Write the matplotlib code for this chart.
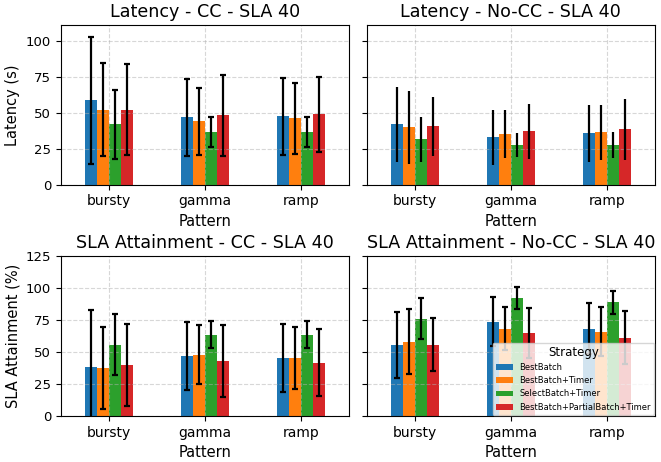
import matplotlib
matplotlib.use("Agg")
import matplotlib.pyplot as plt
import numpy as np

patterns = ["bursty", "gamma", "ramp"]
strategies = ["BestBatch", "BestBatch+Timer", "SelectBatch+Timer",
              "BestBatch+PartialBatch+Timer"]
colors = ["#1f77b4", "#ff7f0e", "#2ca02c", "#d62728"]

# rows = strategies, columns = patterns
lat_cc = [[58.7, 46.9, 47.6], [52.4, 44.1, 46.2], [42.0, 36.5, 36.5], [52.4, 48.3, 49.0]]
lat_cc_std = [[44.5, 26.6, 26.7], [32.3, 23.3, 24.6], [24.0, 10.5, 10.5], [31.7, 28.2, 26.3]]
lat_nocc = [[42.0, 33.0, 35.8], [40.0, 35.1, 36.5], [31.6, 27.5, 27.5], [40.6, 37.2, 38.6]]
lat_nocc_std = [[25.9, 19.0, 19.7], [25.4, 16.7, 19.0], [15.6, 8.3, 9.0], [20.6, 19.3, 21.1]]
sla_cc = [[38.4, 47.1, 45.5], [37.6, 47.9, 45.5], [55.8, 63.7, 63.7], [40.0, 43.2, 41.6]]
sla_cc_std = [[44.8, 26.7, 26.6], [32.3, 23.3, 24.5], [24.0, 10.5, 10.5], [32.0, 28.3, 26.2]]
sla_nocc = [[55.8, 73.9, 68.4], [58.2, 68.4, 66.1], [76.3, 92.1, 88.9], [55.8, 65.3, 61.3]]
sla_nocc_std = [[26.0, 19.0, 20.3], [25.5, 16.8, 19.3], [15.8, 8.6, 9.0], [20.6, 19.6, 21.0]]


def bar_panel(ax, vals, stds, title, capsize):
    x = np.arange(len(patterns))
    w = 0.125
    for i, s in enumerate(strategies):
        ax.bar(x + (i - 1.5) * w, vals[i], w, yerr=stds[i], color=colors[i],
               label=s, capsize=capsize, error_kw={"elinewidth": 1.6, "ecolor": "black",
                                                    "capthick": 1.6})
    ax.set_xticks(x)
    ax.set_xticklabels(patterns, fontsize=10)
    ax.set_xlim(-0.5, 2.5)
    ax.set_xlabel("Pattern", fontsize=10.5)
    ax.set_title(title, fontsize=12.6)
    ax.grid(True, linestyle="--", alpha=0.5)
    ax.tick_params(axis="y", labelsize=9.5)


fig, axes = plt.subplots(2, 2, figsize=(6.61, 4.62), dpi=100)
fig.subplots_adjust(left=0.092, right=0.991, top=0.945, bottom=0.1,
                    wspace=0.06, hspace=0.45)

bar_panel(axes[0, 0], lat_cc, lat_cc_std, "Latency - CC - SLA 40", 2)
bar_panel(axes[0, 1], lat_nocc, lat_nocc_std, "Latency - No-CC - SLA 40", 0)
bar_panel(axes[1, 0], sla_cc, sla_cc_std, "SLA Attainment - CC - SLA 40", 2)
bar_panel(axes[1, 1], sla_nocc, sla_nocc_std, "SLA Attainment - No-CC - SLA 40", 2)

for ax in axes[0]:
    ax.set_ylim(0, 111)
    ax.set_yticks([0, 25, 50, 75, 100])
for ax in axes[1]:
    ax.set_ylim(0, 125)
    ax.set_yticks([0, 25, 50, 75, 100, 125])
for ax in axes[:, 1]:
    ax.tick_params(axis="y", labelleft=False)

axes[0, 0].set_ylabel("Latency (s)", fontsize=10.5)
axes[1, 0].set_ylabel("SLA Attainment (%)", fontsize=10.5)

axes[1, 1].legend(title="Strategy", fontsize=6, title_fontsize=8.5,
                  loc="lower right", borderaxespad=0.1)

plt.savefig("out.png", dpi=100)
